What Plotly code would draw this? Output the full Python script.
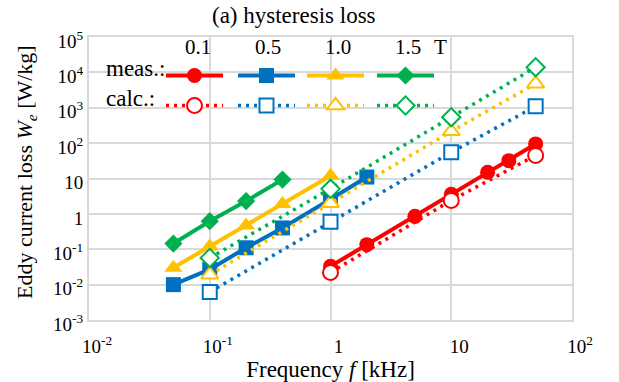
import plotly.graph_objects as go

# ---- data ----
f_meas_01 = [1, 2, 5, 10, 20, 30, 50]
W_meas_01 = [0.033, 0.135, 0.85, 3.6, 15, 32, 95]
f_calc_01 = [1, 10, 50]
W_calc_01 = [0.022, 2.4, 45]

f_meas_05 = [0.05, 0.1, 0.2, 0.4, 1, 2]
W_meas_05 = [0.01, 0.027, 0.11, 0.4, 2.6, 11]
f_calc_05 = [0.1, 1, 10, 50]
W_calc_05 = [0.0062, 0.6, 55, 1100]

f_meas_10 = [0.05, 0.1, 0.2, 0.4, 1]
W_meas_10 = [0.03, 0.12, 0.47, 1.9, 12]
f_calc_10 = [0.1, 1, 10, 50]
W_calc_10 = [0.019, 2.0, 215, 4800]

f_meas_15 = [0.05, 0.1, 0.2, 0.4]
W_meas_15 = [0.145, 0.62, 2.3, 9.3]
f_calc_15 = [0.1, 1, 10, 50]
W_calc_15 = [0.057, 5.1, 540, 14000]

x_tickvals = [0.01, 0.1, 1, 10, 100]
x_ticktext = ["10<sup>-2</sup>", "10<sup>-1</sup>", "1", "10", "10<sup>2</sup>"]
y_tickvals = [1e-3, 1e-2, 1e-1, 1, 10, 1e2, 1e3, 1e4, 1e5]
y_ticktext = ["10<sup>-3</sup>", "10<sup>-2</sup>", "10<sup>-1</sup>", "1", "10",
              "10<sup>2</sup>", "10<sup>3</sup>", "10<sup>4</sup>", "10<sup>5</sup>"]
flux_labels = ["0.1", "0.5", "1.0", "1.5"]

RED, BLUE, YEL, GRN = "#FF0000", "#0070C0", "#FFC000", "#00B050"
FONT = "Liberation Serif, Times New Roman, DejaVu Serif, serif"

L, R, T, B = 89, 572, 37, 320
W, H = 619, 382

def px2paper(x, y):
    return (x - L) / (R - L), (B - y) / (B - T)

fig = go.Figure()

meas = [
    (f_meas_01, W_meas_01, RED, "circle", 15),
    (f_meas_05, W_meas_05, BLUE, "square", 15),
    (f_meas_10, W_meas_10, YEL, "triangle-up", 16),
    (f_meas_15, W_meas_15, GRN, "diamond", 14),
]
calc = [
    (f_calc_01, W_calc_01, RED, "circle", 15),
    (f_calc_05, W_calc_05, BLUE, "square", 14),
    (f_calc_10, W_calc_10, YEL, "triangle-up", 15),
    (f_calc_15, W_calc_15, GRN, "diamond", 14),
]

# legend column positions (pixel x of the legend boxes)
legend_cols = [161, 233, 302, 372]
legend_layout = {}
k = 0
for row, (rows, ytop) in enumerate([(meas, 56), (calc, 86)]):
    for i, (fx, wy, c, sym, sz) in enumerate(rows):
        k += 1
        lname = "legend" if k == 1 else f"legend{k}"
        if row == 0:
            line = dict(color=c, width=4)
            marker = dict(symbol=sym, size=sz, color=c, line=dict(width=0))
        else:
            line = dict(color=c, width=3.5, dash="3px,5px")
            marker = dict(symbol=sym, size=sz, color="white", line=dict(color=c, width=2))
        fig.add_trace(go.Scatter(x=fx, y=wy, mode="lines+markers", name="",
                                 legend=lname, line=line, marker=marker, showlegend=True))
        lx, ly = px2paper(legend_cols[i], ytop)
        legend_layout[lname] = dict(orientation="h", x=lx, y=ly, xanchor="left", yanchor="top",
                                    bgcolor="rgba(0,0,0,0)", itemwidth=57,
                                    font=dict(family=FONT, size=20))

def ann(text, x, y, size, xanchor="center", angle=0):
    ax_, ay_ = px2paper(x, y)
    return dict(text=text, x=ax_, y=ay_, xref="paper", yref="paper", showarrow=False,
                font=dict(family=FONT, size=size, color="black"), textangle=angle,
                xanchor=xanchor, yanchor="middle")

annotations = [ann("(a) hysteresis loss", 294, 16, 23)]
for lab, xc in zip(flux_labels, [198, 268, 338, 408]):
    annotations.append(ann(lab, xc, 47, 21))
annotations.append(ann("T", 440, 47, 21))
annotations.append(ann("meas.:", 104, 68, 23, xanchor="left"))
annotations.append(ann("calc.:", 104, 98, 23, xanchor="left"))
annotations.append(ann("Eddy current loss <i>W</i><sub><i>e</i></sub> [W/kg]", 26, 172, 22, angle=-90))

grid = "#d9d9d9"
fig.update_layout(
    width=W, height=H,
    margin=dict(l=L, r=W - R, t=T, b=H - B, autoexpand=False),
    paper_bgcolor="white", plot_bgcolor="white",
    font=dict(family=FONT, size=18, color="black"),
    annotations=annotations,
    xaxis=dict(type="log", range=[-2, 2], tickvals=x_tickvals, ticktext=x_ticktext,
               showgrid=True, gridcolor=grid, gridwidth=2, showline=True, linecolor=grid,
               linewidth=2, mirror=True, ticks="", zeroline=False, ticklabelshift=8,
               ticklabelstandoff=8, automargin=False,
               tickfont=dict(family=FONT, size=19),
               title=dict(text="Frequency <i>f</i> [kHz]", font=dict(family=FONT, size=23), standoff=16)),
    yaxis=dict(type="log", range=[-3, 5], tickvals=y_tickvals, ticktext=y_ticktext,
               showgrid=True, gridcolor=grid, gridwidth=2, showline=True, linecolor=grid,
               linewidth=2, mirror=True, ticks="", zeroline=False, ticklabelshift=4,
               automargin=False,
               tickfont=dict(family=FONT, size=19)),
    **legend_layout,
)

fig.write_html("out.html")
